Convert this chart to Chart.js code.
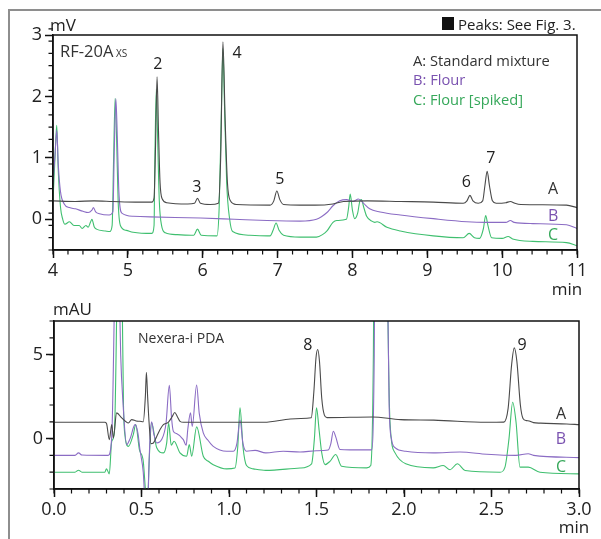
<!DOCTYPE html>
<html>
<head>
<meta charset="utf-8">
<script src="https://cdn.jsdelivr.net/npm/chart.js@4"></script>
<style>
  body { margin: 0; background: #fff; }
  #wrap { position: relative; width: 601px; height: 539px; overflow: hidden; }
  #frame { position: absolute; left: 8px; top: 9px; width: 600px; height: 540px;
           border-left: 2px solid #8e8e8e; border-top: 2px solid #8e8e8e; }
  canvas { position: absolute; left: 0; }
</style>
</head>
<body>
<div id="wrap">
  <div id="frame"></div>
  <canvas id="bottomChart" width="601" height="249" style="top:290px"></canvas>
  <canvas id="topChart" width="601" height="300" style="top:0"></canvas>
</div>
<script>
// ---- Top panel (RF-20Axs, mV) ----
const topXTicks = [4, 5, 6, 7, 8, 9, 10, 11];
const topYTicks = [0, 1, 2, 3];

const topTimeA = [4.00, 4.30, 4.55, 4.80, 5.10, 5.32, 5.35, 5.37, 5.39, 5.41, 5.43, 5.46, 5.52, 5.80, 5.89, 5.93, 5.97, 6.10, 6.21, 6.24, 6.27, 6.30, 6.33, 6.37, 6.45, 6.90, 6.95, 6.99, 7.03, 7.08, 7.30, 7.50, 7.74, 7.88, 8.20, 8.64, 9.08, 9.48, 9.53, 9.57, 9.61, 9.68, 9.74, 9.77, 9.80, 9.83, 9.87, 9.92, 10.05, 10.11, 10.17, 10.25, 10.86, 11.00];
const topA     = [0.30, 0.29, 0.30, 0.29, 0.28, 0.28, 0.35, 1.20, 2.32, 1.40, 0.60, 0.33, 0.27, 0.25, 0.26, 0.34, 0.26, 0.24, 0.26, 1.00, 2.89, 1.60, 0.60, 0.30, 0.24, 0.23, 0.30, 0.46, 0.32, 0.24, 0.23, 0.23, 0.25, 0.29, 0.30, 0.29, 0.28, 0.26, 0.30, 0.39, 0.30, 0.26, 0.30, 0.55, 0.78, 0.55, 0.30, 0.26, 0.27, 0.29, 0.26, 0.24, 0.23, 0.19];

const topTimeB = [4.00, 4.03, 4.05, 4.07, 4.10, 4.15, 4.22, 4.30, 4.40, 4.47, 4.52, 4.54, 4.57, 4.62, 4.75, 4.80, 4.82, 4.84, 4.86, 4.88, 4.92, 5.07, 5.30, 5.97, 6.42, 6.86, 7.30, 7.52, 7.66, 7.74, 7.83, 7.92, 8.01, 8.08, 8.15, 8.23, 8.37, 8.64, 9.08, 9.53, 9.79, 10.05, 10.11, 10.16, 10.41, 10.86, 11.00];
const topB     = [0.60, 1.10, 1.45, 0.90, 0.45, 0.25, 0.19, 0.17, 0.13, 0.11, 0.15, 0.19, 0.12, 0.09, 0.07, 0.12, 1.20, 1.96, 1.30, 0.45, 0.10, 0.05, 0.04, 0.02, 0.00, -0.02, -0.03, 0.00, 0.11, 0.22, 0.30, 0.32, 0.29, 0.33, 0.26, 0.17, 0.12, 0.07, 0.01, -0.04, -0.05, -0.05, -0.02, -0.05, -0.07, -0.09, -0.15];

const topTimeC = [4.00, 4.03, 4.05, 4.07, 4.10, 4.13, 4.16, 4.22, 4.28, 4.35, 4.39, 4.44, 4.47, 4.50, 4.52, 4.55, 4.58, 4.70, 4.76, 4.79, 4.81, 4.83, 4.85, 4.87, 4.90, 4.98, 5.07, 5.32, 5.35, 5.36, 5.38, 5.40, 5.42, 5.45, 5.50, 5.66, 5.88, 5.93, 5.98, 6.19, 6.22, 6.25, 6.27, 6.29, 6.32, 6.36, 6.40, 6.63, 6.90, 6.94, 6.98, 7.02, 7.08, 7.30, 7.52, 7.60, 7.66, 7.74, 7.79, 7.92, 7.95, 7.97, 8.00, 8.03, 8.07, 8.10, 8.12, 8.15, 8.19, 8.26, 8.30, 8.33, 8.46, 8.64, 9.08, 9.48, 9.56, 9.63, 9.70, 9.75, 9.78, 9.81, 9.86, 10.00, 10.08, 10.14, 10.41, 10.86, 11.00];
const topC     = [0.30, 1.10, 1.53, 0.80, 0.20, 0.00, -0.08, -0.04, -0.10, -0.10, -0.15, -0.10, -0.13, -0.05, 0.00, -0.12, -0.16, -0.19, -0.20, -0.10, 1.00, 1.97, 1.30, 0.30, -0.10, -0.18, -0.21, -0.23, -0.10, 0.90, 2.12, 1.20, 0.30, -0.10, -0.22, -0.25, -0.26, -0.16, -0.26, -0.27, 0.20, 1.80, 2.78, 1.90, 0.60, 0.00, -0.20, -0.26, -0.27, -0.18, -0.06, -0.18, -0.26, -0.29, -0.29, -0.25, -0.19, -0.05, -0.02, 0.00, 0.20, 0.41, 0.15, 0.01, 0.10, 0.30, 0.32, 0.20, 0.05, -0.03, -0.05, -0.04, -0.13, -0.19, -0.27, -0.30, -0.23, -0.30, -0.31, -0.15, 0.06, -0.10, -0.30, -0.31, -0.28, -0.32, -0.36, -0.38, -0.43];

const topPeakNames = ['2', '3', '4', '5', '6', '7'];
const topPeakTimes = [5.40, 5.92, 6.46, 7.03, 9.52, 9.85];
const topPeakLevels = [2.45, 0.45, 2.63, 0.58, 0.52, 0.91];

// ---- Bottom panel (Nexera-i PDA, mAU) ----
const botXTicks = [0, 0.5, 1.0, 1.5, 2.0, 2.5, 3.0];
const botYTicks = [0, 5];

const botTimeA = [0.00, 0.29, 0.30, 0.316, 0.33, 0.339, 0.358, 0.387, 0.425, 0.444, 0.47, 0.491, 0.51, 0.522, 0.528, 0.535, 0.543, 0.554, 0.568, 0.587, 0.606, 0.625, 0.653, 0.675, 0.69, 0.705, 0.72, 0.74, 1.06, 1.20, 1.35, 1.41, 1.47, 1.485, 1.497, 1.507, 1.517, 1.53, 1.545, 1.56, 1.82, 1.98, 2.17, 2.47, 2.57, 2.595, 2.615, 2.63, 2.645, 2.665, 2.68, 2.70, 2.715, 2.74, 2.78, 2.93, 3.00];
const botA     = [0.97, 0.97, 0.90, -0.06, 0.83, 0.04, 1.53, 1.23, 0.93, 1.13, 1.05, 1.03, 1.00, 2.50, 3.95, 2.50, 1.00, -0.30, -0.26, 0.13, 0.54, 0.83, 0.97, 1.30, 1.55, 1.30, 1.03, 0.97, 0.97, 0.97, 1.17, 1.20, 1.24, 2.80, 4.80, 5.30, 4.60, 2.40, 1.40, 1.25, 1.29, 1.13, 1.10, 0.97, 0.98, 1.80, 4.40, 5.40, 4.60, 2.00, 1.20, 1.07, 1.05, 0.95, 0.92, 0.87, 0.83];

const botTimeB = [0.00, 0.12, 0.14, 0.16, 0.30, 0.31, 0.33, 0.345, 0.36, 0.375, 0.381, 0.395, 0.415, 0.435, 0.463, 0.48, 0.491, 0.51, 0.525, 0.535, 0.542, 0.549, 0.558, 0.57, 0.587, 0.615, 0.64, 0.659, 0.672, 0.682, 0.70, 0.739, 0.755, 0.765, 0.78, 0.79, 0.815, 0.83, 0.853, 0.88, 0.91, 0.987, 1.025, 1.045, 1.063, 1.08, 1.10, 1.149, 1.21, 1.31, 1.406, 1.50, 1.567, 1.582, 1.596, 1.61, 1.634, 1.691, 1.815, 1.83, 1.845, 1.88, 1.905, 1.915, 1.929, 1.95, 2.01, 2.167, 2.32, 2.473, 2.64, 2.71, 2.74, 3.00];
const botB     = [-1.00, -1.00, -0.85, -0.98, -1.00, -1.00, 0.14, 8.0, 20.0, 8.0, 5.0, 2.0, -0.36, 0.00, 0.83, 0.30, -0.65, -2.00, -4.50, -4.50, -1.85, 0.14, 1.00, 0.30, -0.26, -0.06, 0.90, 3.17, 1.20, 0.44, 0.30, -0.06, -0.40, 0.60, 1.53, 0.73, 3.19, 1.50, 0.34, -0.10, -0.46, -0.75, -0.75, -0.30, 1.10, -0.30, -0.75, -0.70, -0.85, -0.75, -0.80, -0.72, -0.68, -0.30, 0.44, 0.10, -0.65, -0.67, -0.67, 5.0, 30.0, 40.0, 10.0, 2.0, -0.06, -0.55, -0.75, -0.85, -0.80, -0.93, -1.00, -0.90, -1.00, -1.13];

const botTimeC = [0.00, 0.12, 0.14, 0.16, 0.29, 0.30, 0.316, 0.33, 0.345, 0.36, 0.375, 0.39, 0.397, 0.406, 0.425, 0.453, 0.467, 0.488, 0.51, 0.522, 0.53, 0.538, 0.545, 0.558, 0.587, 0.625, 0.644, 0.655, 0.67, 0.686, 0.72, 0.758, 0.773, 0.787, 0.815, 0.853, 0.882, 0.91, 0.987, 1.034, 1.05, 1.063, 1.08, 1.10, 1.139, 1.21, 1.406, 1.472, 1.488, 1.50, 1.515, 1.53, 1.549, 1.577, 1.61, 1.643, 1.787, 1.81, 1.825, 1.84, 1.88, 1.905, 1.92, 1.949, 2.01, 2.167, 2.224, 2.263, 2.305, 2.349, 2.549, 2.577, 2.60, 2.621, 2.64, 2.663, 2.71, 2.777, 3.00];
const botC     = [-2.00, -2.00, -1.88, -2.00, -2.00, -1.80, -2.10, -0.16, 0.36, 9.0, 25.0, 8.0, 2.0, 0.14, -0.46, 0.24, 0.83, -0.65, -1.35, -3.00, -4.00, -3.00, -1.05, 0.93, -0.55, -0.85, -0.25, 0.93, -0.40, -0.16, -0.85, -1.05, -0.36, -1.05, 0.70, -1.05, -1.35, -1.55, -1.80, -1.75, -0.50, 1.83, -0.50, -1.60, -1.80, -1.89, -1.75, -1.50, 0.00, 1.83, 0.50, -0.85, -1.55, -1.35, -0.95, -1.65, -1.74, -1.60, 5.0, 30.0, 40.0, 10.0, 1.0, -0.85, -1.50, -1.74, -1.60, -1.85, -1.50, -1.90, -2.00, -1.70, 0.00, 2.16, 1.00, -1.70, -1.70, -2.00, -2.10];

const botPeakNames = ['8', '9'];
const botPeakTimes = [1.451, 2.674];
const botPeakLevels = [5.30, 5.30];

// trace names and colours
const traceNames = ['A', 'B', 'C'];
const lineColors = ['#4a4a4a', '#8b6cc4', '#3fbf6f'];
const textColors = ['#333333', '#7a52b0', '#36a85a'];

Chart.defaults.font.family = "'Open Sans', sans-serif";
Chart.defaults.color = '#222';

function pairs(xs, ys) {
  return xs.map((x, i) => ({ x: x, y: ys[i] }));
}

function trace(label, xs, ys, color) {
  return {
    label: label,
    data: pairs(xs, ys),
    borderColor: color,
    borderWidth: 1.1,
    pointRadius: 0,
    cubicInterpolationMode: 'monotone',
    fill: false
  };
}

// Box, minor ticks and all the text on a panel
const decor = {
  id: 'decor',
  afterDraw(chart, args, opts) {
    const { ctx, chartArea: a } = chart;
    const x = chart.scales.x, y = chart.scales.y;
    ctx.save();
    ctx.strokeStyle = '#111';
    ctx.lineWidth = 1.5;
    ctx.strokeRect(a.left, a.top, a.right - a.left, a.bottom - a.top);

    // minor ticks
    ctx.lineWidth = 1.2;
    ctx.beginPath();
    const nx = Math.round((x.max - x.min) / opts.minorX);
    for (let i = 0; i <= nx; i++) {
      const px = x.getPixelForValue(x.min + i * opts.minorX);
      ctx.moveTo(px, a.bottom);
      ctx.lineTo(px, a.bottom + 4.5);
    }
    const ny = Math.round((y.max - y.min) / opts.minorY);
    for (let i = 0; i <= ny; i++) {
      const py = y.getPixelForValue(y.min + i * opts.minorY);
      ctx.moveTo(a.left, py);
      ctx.lineTo(a.left - 4.5, py);
    }
    ctx.stroke();

    // labels placed by data value
    ctx.textBaseline = 'alphabetic';
    opts.dataLabels.forEach(l => {
      ctx.font = l.font;
      ctx.fillStyle = l.color;
      ctx.textAlign = 'center';
      ctx.fillText(l.text, x.getPixelForValue(l.x), y.getPixelForValue(l.y));
    });

    // fixed texts (titles, units)
    opts.texts.forEach(t => {
      ctx.font = t.font;
      ctx.fillStyle = t.color || '#222';
      ctx.textAlign = t.align || 'left';
      ctx.fillText(t.text, t.px, t.py);
    });
    if (opts.extra) opts.extra(ctx);
    ctx.restore();
  }
};

function peakLabels(names, times, levels) {
  return names.map((n, i) => ({ text: n, x: times[i], y: levels[i], color: '#222', font: "16px 'Open Sans'" }));
}

function traceLabels(t, levels) {
  return traceNames.map((n, i) => ({ text: n, x: t, y: levels[i], color: textColors[i], font: "16px 'Open Sans'" }));
}

function axes(xTicks, yTicks, xmin, xmax, ymin, ymax, yWidth, xHeight, xFmt) {
  const grid = { drawOnChartArea: false, drawTicks: true, tickLength: 8, tickWidth: 1.5, tickColor: '#111' };
  return {
    x: {
      type: 'linear', min: xmin, max: xmax,
      grid: grid,
      border: { display: true, color: '#111', width: 1.5 },
      afterBuildTicks: s => { s.ticks = xTicks.map(v => ({ value: v })); },
      afterFit: s => { s.height = xHeight; },
      ticks: { autoSkip: false, maxRotation: 0, padding: 2, font: { size: 18 }, color: '#222', callback: xFmt }
    },
    y: {
      type: 'linear', min: ymin, max: ymax,
      grid: grid,
      border: { display: true, color: '#111', width: 1.5 },
      afterBuildTicks: s => { s.ticks = yTicks.map(v => ({ value: v })); },
      afterFit: s => { s.width = yWidth; },
      ticks: { padding: 3, font: { size: 18 }, color: '#222' }
    }
  };
}

// Top chart
new Chart(document.getElementById('topChart').getContext('2d'), {
  type: 'line',
  data: {
    datasets: [
      trace('A', topTimeA, topA, lineColors[0]),
      trace('B', topTimeB, topB, lineColors[1]),
      trace('C', topTimeC, topC, lineColors[2])
    ]
  },
  options: {
    responsive: false,
    animation: false,
    devicePixelRatio: 1,
    layout: { padding: { left: 0, right: 24, top: 35, bottom: 0 } },
    scales: axes(topXTicks, topYTicks, 4, 11, -0.5, 3, 53, 50, v => v),
    plugins: {
      legend: { display: false },
      tooltip: { enabled: false },
      decor: {
        minorX: 0.2,
        minorY: 0.2,
        dataLabels: peakLabels(topPeakNames, topPeakTimes, topPeakLevels).concat(traceLabels(10.68, [0.41, -0.03, -0.34])),
        texts: [
          { text: 'mV', px: 50, py: 31, font: "17px 'Open Sans'" },
          { text: 'RF-20A', px: 60, py: 57, font: "16.5px 'Open Sans'", color: '#333' },
          { text: 'XS', px: 116, py: 57, font: "10px 'Open Sans'", color: '#333' },
          { text: 'A: Standard mixture', px: 413, py: 66, font: "14.7px 'Open Sans'", color: textColors[0] },
          { text: 'B: Flour', px: 413, py: 85, font: "14.7px 'Open Sans'", color: textColors[1] },
          { text: 'C: Flour [spiked]', px: 413, py: 105, font: "14.7px 'Open Sans'", color: textColors[2] },
          { text: 'Peaks: See Fig. 3.', px: 458, py: 30, font: "15px 'Open Sans'" },
          { text: 'min', px: 567, py: 295, align: 'center', font: "17px 'Open Sans'" }
        ],
        extra: ctx => { ctx.fillStyle = '#111'; ctx.fillRect(442, 17, 12, 13); }
      }
    }
  },
  plugins: [decor]
});

// Bottom chart
new Chart(document.getElementById('bottomChart').getContext('2d'), {
  type: 'line',
  data: {
    datasets: [
      trace('A', botTimeA, botA, lineColors[0]),
      trace('B', botTimeB, botB, lineColors[1]),
      trace('C', botTimeC, botC, lineColors[2])
    ]
  },
  options: {
    responsive: false,
    animation: false,
    devicePixelRatio: 1,
    layout: { padding: { left: 0, right: 22, top: 31, bottom: 0 } },
    scales: axes(botXTicks, botYTicks, 0, 3, -3, 7, 54, 50, v => Number(v).toFixed(1)),
    plugins: {
      legend: { display: false },
      tooltip: { enabled: false },
      decor: {
        minorX: 0.1,
        minorY: 1,
        dataLabels: peakLabels(botPeakNames, botPeakTimes, botPeakLevels).concat(traceLabels(2.897, [1.19, -0.30, -1.96])),
        texts: [
          { text: 'mAU', px: 53, py: 25, font: "17px 'Open Sans'" },
          { text: 'Nexera-i PDA', px: 138, py: 53, font: "14px 'Open Sans'", color: '#333' },
          { text: 'min', px: 574, py: 243, align: 'center', font: "17px 'Open Sans'" }
        ]
      }
    }
  },
  plugins: [decor]
});
</script>
</body>
</html>
